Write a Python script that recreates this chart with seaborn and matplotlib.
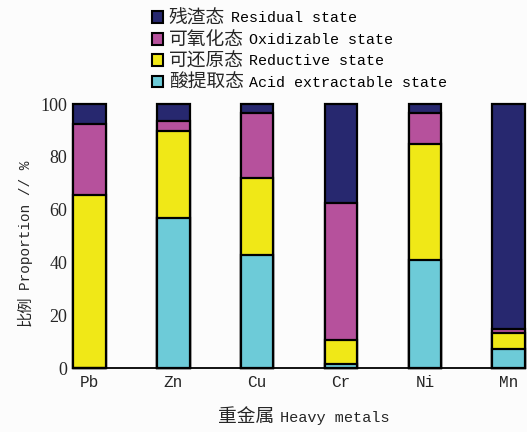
import matplotlib
matplotlib.use("Agg")
import matplotlib.pyplot as plt
from matplotlib.patches import Patch
from matplotlib.text import Annotation
import pandas as pd
import seaborn as sns

# Heavy-metal speciation fractions (%)
metals = ["Pb", "Zn", "Cu", "Cr", "Ni", "Mn"]
acid_extractable = [0.0, 57.0, 43.0, 1.5, 41.0, 7.2]
reductive = [65.5, 33.0, 29.0, 9.0, 44.0, 6.0]
oxidizable = [27.0, 3.6, 24.5, 52.0, 11.7, 1.6]
residual = [7.5, 6.4, 3.5, 37.5, 3.3, 85.2]

# legend entries, top to bottom: Chinese name + English name
fraction_cn = ["残渣态", "可氧化态", "可还原态", "酸提取态"]
fraction_en = ["Residual state", "Oxidizable state",
               "Reductive state", "Acid extractable state"]
colors = ["#27286f", "#b6519c", "#f0e817", "#6dcbd8"]

sns.set_theme(style="white")
MONO = "Liberation Mono"
CJK = "Noto Sans CJK SC"
mixed = [MONO, CJK]
plt.rcParams["font.family"] = mixed

df = pd.DataFrame({
    "metal": metals,
    "acid": acid_extractable,
    "red": reductive,
    "ox": oxidizable,
    "res": residual,
})
# cumulative tops of the stack, drawn top-most layer first
df["top_res"] = df[["acid", "red", "ox", "res"]].sum(axis=1)
df["top_ox"] = df[["acid", "red", "ox"]].sum(axis=1)
df["top_red"] = df[["acid", "red"]].sum(axis=1)
df["top_acid"] = df["acid"]

bg = "#fcfcfc"
fig = plt.figure(figsize=(5.27, 4.32), dpi=100, facecolor=bg)
ax = fig.add_axes([0.1385, 0.148, 0.858, 0.611])
ax.set_facecolor(bg)

for col, c in zip(["top_res", "top_ox", "top_red", "top_acid"], colors):
    sns.barplot(data=df, x="metal", y=col, color=c, width=0.39,
                edgecolor="black", linewidth=1.6, saturation=1,
                ax=ax, clip_on=False, zorder=3)

ax.set_xlim(-0.195, 5.195)
ax.set_ylim(0, 100)
ax.set_yticks([0, 20, 40, 60, 80, 100])
ax.set_yticklabels(["0", "20", "40", "60", "80", "100"],
                   family="Liberation Serif", fontsize=13)
ax.tick_params(axis="y", direction="in", length=3, width=1, color="black", pad=4)
ax.tick_params(axis="x", length=0, pad=5, labelsize=11.5)
for lab in ax.get_xticklabels():
    lab.set_family(mixed)

for s in ["top", "right"]:
    ax.spines[s].set_visible(False)
for s in ["left", "bottom"]:
    ax.spines[s].set_color("black")
    ax.spines[s].set_linewidth(1.3)

ax.set_xlabel("")
ax.set_ylabel("")

# y-axis title: Chinese part at the bottom, English part above it
fig.text(25 / 527, 1 - 326 / 432, "比例", family=CJK, fontsize=11,
         rotation=90, ha="center", va="bottom")
fig.text(26 / 527, 1 - 290 / 432, "Proportion // %", family=MONO, fontsize=10.4,
         rotation=90, ha="center", va="bottom")

# x-axis title: Chinese part, then English part on the same baseline
fig.text(274 / 527, 1 - 422 / 432, "重金属", family=CJK, fontsize=13.5,
         ha="right", va="baseline")
fig.text(280 / 527, 1 - 422 / 432, "Heavy metals", family=MONO, fontsize=11,
         ha="left", va="baseline")

handles = [Patch(facecolor=c, edgecolor="black", linewidth=1.5) for c in colors]
leg = fig.legend(handles, fraction_cn, loc="upper left",
                 bbox_to_anchor=(152 / 527, 1 - 8 / 432),
                 frameon=False, prop={"family": CJK, "size": 13.5},
                 handlelength=0.6, handleheight=0.6, handletextpad=0.3,
                 labelspacing=0.02, borderpad=0, borderaxespad=0)
leg.set_zorder(5)

# English names follow each Chinese legend label
for t, en in zip(leg.get_texts(), fraction_en):
    ann = Annotation(en, xy=(1, 0.5), xycoords=t, xytext=(4, 0),
                     textcoords="offset points", ha="left", va="center",
                     family=MONO, fontsize=10.8, color="black")
    ann.set_zorder(6)
    fig.add_artist(ann)

fig.savefig("out.png", dpi=100, facecolor=bg)
